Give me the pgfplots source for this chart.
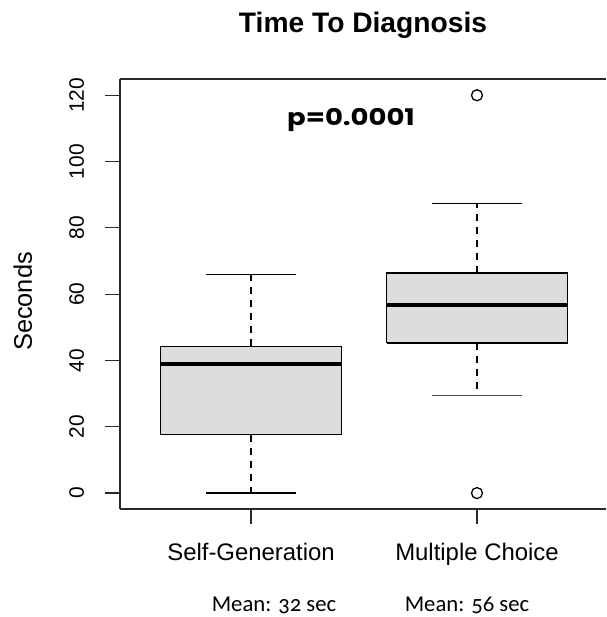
\documentclass[border=0pt]{standalone}
\usepackage{fontspec}
\setmainfont{Liberation Sans}
\newfontfamily\meanfont{Carlito}[Numbers=OldStyle]
\newfontfamily\pfont{Poppins}[FakeStretch=1.2]
\usepackage{pgfplots}
\pgfplotsset{compat=1.18}
\definecolor{boxfill}{RGB}{221,221,221}
\definecolor{axcol}{RGB}{40,40,40}
\begin{document}
\begin{tikzpicture}
\begin{axis}[
  at={(0,0)}, anchor=south west,
  scale only axis, width=486bp, height=430bp,
  xmin=0.42, xmax=2.571, ymin=-4.8, ymax=124.9,
  axis x line*=bottom, axis y line*=left,
  axis line style={axcol, line width=1.2pt, -},
  tick align=outside, major tick length=15bp,
  tick style={axcol, line width=1.2pt},
  xtick={1,2}, xticklabels={Self-Generation, Multiple Choice},
  ytick={0,20,...,120},
  /pgf/number format/assume math mode=true,
  xticklabel style={font=\fontsize{24}{24}\selectfont, anchor=base, yshift=-36.5bp},
  yticklabel style={font=\fontsize{21}{21}\selectfont, rotate=90, anchor=base, yshift=21bp},
  clip=false,
]
% Self-Generation: box (Q1, Q3), median, whiskers, caps
\addplot[draw=black, fill=boxfill, line width=1.3pt] coordinates {(0.6,17.6) (1.4,17.6) (1.4,44.3) (0.6,44.3) (0.6,17.6)};
\addplot[black, line width=4pt] coordinates {(0.6,38.9) (1.4,38.9)};
\addplot[black, line width=1.3pt, dash pattern=on 7bp off 6bp] coordinates {(1,17.6) (1,0)};
\addplot[black, line width=1.3pt, dash pattern=on 7bp off 6bp] coordinates {(1,44.3) (1,66.0)};
\addplot[black, line width=1.3pt] coordinates {(0.8,0) (1.2,0)};
\addplot[black, line width=1.3pt] coordinates {(0.8,66.0) (1.2,66.0)};
% Multiple Choice
\addplot[draw=black, fill=boxfill, line width=1.3pt] coordinates {(1.6,45.3) (2.4,45.3) (2.4,66.4) (1.6,66.4) (1.6,45.3)};
\addplot[black, line width=4pt] coordinates {(1.6,56.7) (2.4,56.7)};
\addplot[black, line width=1.3pt, dash pattern=on 7bp off 6bp] coordinates {(2,45.3) (2,29.5)};
\addplot[black, line width=1.3pt, dash pattern=on 7bp off 6bp] coordinates {(2,66.4) (2,87.4)};
\addplot[black!70, line width=1.3pt] coordinates {(1.8,29.5) (2.2,29.5)};
\addplot[black, line width=1.3pt] coordinates {(1.8,87.4) (2.2,87.4)};
\addplot[only marks, mark=o, mark size=5.5bp, mark options={black, line width=1.3pt}] coordinates {(2,120) (2,0)};
\draw[axcol, line width=1.2pt] (rel axis cs:0,1) -- (rel axis cs:1,1);
\end{axis}
\path[use as bounding box] (-120bp,-108bp) rectangle (486bp,509bp);
\node[anchor=base, inner sep=0pt, font=\fontsize{28.3}{28.3}\selectfont\bfseries] at (243bp,476bp) {Time To Diagnosis};
\node[anchor=base, inner sep=0pt, font=\fontsize{23}{23}\selectfont\pfont\bfseries] at (231bp,383.3bp) {p=0.0001};
\node[anchor=base, rotate=90, inner sep=0pt, font=\fontsize{25.5}{25.5}\selectfont] at (-88bp,207.5bp) {Seconds};
\node[anchor=base, inner sep=0pt, font=\fontsize{22.8}{22.8}\selectfont\meanfont] at (154bp,-102.7bp) {Mean: 32 sec};
\node[anchor=base, inner sep=0pt, font=\fontsize{22.8}{22.8}\selectfont\meanfont] at (347bp,-102.7bp) {Mean: 56 sec};
\end{tikzpicture}
\end{document}
